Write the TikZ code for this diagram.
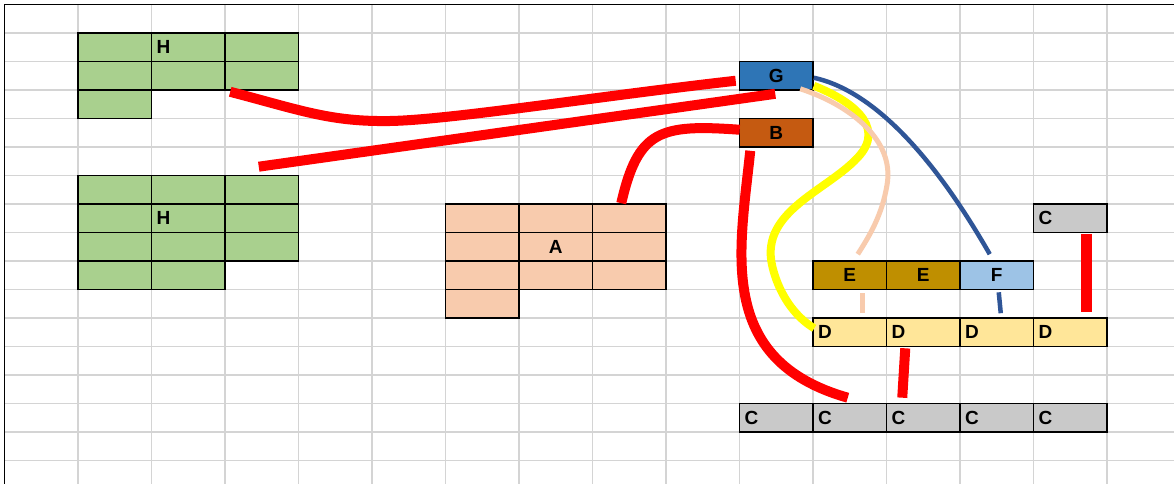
\documentclass[tikz,border=0pt]{standalone}
\usepackage{fontspec}
\setmainfont{Liberation Sans}
\usetikzlibrary{calc}

\definecolor{gridgray}{HTML}{D4D4D4}
\definecolor{hgreen}{HTML}{A9D08E}
\definecolor{apeach}{HTML}{F8CBAD}
\definecolor{gblue}{HTML}{2E75B6}
\definecolor{bbrown}{HTML}{C55A11}
\definecolor{egold}{HTML}{BF8F00}
\definecolor{flblue}{HTML}{9DC3E6}
\definecolor{dyellow}{HTML}{FFE699}
\definecolor{cgray}{HTML}{C9C9C9}
\definecolor{linkred}{HTML}{FF0000}
\definecolor{linkyellow}{HTML}{FFFF00}
\definecolor{linkpeach}{HTML}{F8CBAD}
\definecolor{linkblue}{HTML}{2F5597}

\begin{document}
\begin{tikzpicture}[x=1pt,y=-1pt,
  cellbox/.style={draw=black, line width=1.6pt, minimum height=28.5pt,
    inner ysep=0pt, inner xsep=5pt, text width=63.5pt,
    font=\fontsize{19}{22}\selectfont\bfseries},
  lefttext/.style={align=left},
  midtext/.style={align=center},
  gridline/.style={draw=gridgray, line width=1.8pt},
  redline/.style={draw=linkred, line width=10pt},
  yellowline/.style={draw=linkyellow, line width=8pt},
  peachline/.style={draw=linkpeach, line width=5pt},
  blueline/.style={draw=linkblue, line width=4.5pt}]

\useasboundingbox (0,0) rectangle (1174,484);
\clip (0,0) rectangle (1174,484);
\fill[white] (0,0) rectangle (1174,484);

% sheet grid
\foreach \i in {1,...,15}
  \draw[gridline] ({4.5+73.5*\i},4.5) -- ({4.5+73.5*\i},484);
\foreach \j in {1,...,16}
  \draw[gridline] (4.5,{4.5+28.5*\j}) -- (1174,{4.5+28.5*\j});
\draw[black, line width=1.6pt] (4.5,484) -- (4.5,4.5) -- (1174,4.5);

% upper green block
\node[cellbox, fill=hgreen] (ha1) at (114.75,47.25) {};
\node[cellbox, fill=hgreen, lefttext] (ha2) at (188.25,47.25) {H};
\node[cellbox, fill=hgreen] (ha3) at (261.75,47.25) {};
\node[cellbox, fill=hgreen] (ha4) at (114.75,75.75) {};
\node[cellbox, fill=hgreen] (ha5) at (188.25,75.75) {};
\node[cellbox, fill=hgreen] (ha6) at (261.75,75.75) {};
\node[cellbox, fill=hgreen] (ha7) at (114.75,104.25) {};

% lower green block
\node[cellbox, fill=hgreen] (hb1) at (114.75,189.75) {};
\node[cellbox, fill=hgreen] (hb2) at (188.25,189.75) {};
\node[cellbox, fill=hgreen] (hb3) at (261.75,189.75) {};
\node[cellbox, fill=hgreen] (hb4) at (114.75,218.25) {};
\node[cellbox, fill=hgreen, lefttext] (hb5) at (188.25,218.25) {H};
\node[cellbox, fill=hgreen] (hb6) at (261.75,218.25) {};
\node[cellbox, fill=hgreen] (hb7) at (114.75,246.75) {};
\node[cellbox, fill=hgreen] (hb8) at (188.25,246.75) {};
\node[cellbox, fill=hgreen] (hb9) at (261.75,246.75) {};
\node[cellbox, fill=hgreen] (hb10) at (114.75,275.25) {};
\node[cellbox, fill=hgreen] (hb11) at (188.25,275.25) {};

% peach block A
\node[cellbox, fill=apeach] (aa1) at (482.25,218.25) {};
\node[cellbox, fill=apeach] (aa2) at (555.75,218.25) {};
\node[cellbox, fill=apeach] (aa3) at (629.25,218.25) {};
\node[cellbox, fill=apeach] (aa4) at (482.25,246.75) {};
\node[cellbox, fill=apeach, midtext] (aa5) at (555.75,246.75) {A};
\node[cellbox, fill=apeach] (aa6) at (629.25,246.75) {};
\node[cellbox, fill=apeach] (aa7) at (482.25,275.25) {};
\node[cellbox, fill=apeach] (aa8) at (555.75,275.25) {};
\node[cellbox, fill=apeach] (aa9) at (629.25,275.25) {};
\node[cellbox, fill=apeach] (aa10) at (482.25,303.75) {};

% single cells
\node[cellbox, fill=gblue, midtext] (g) at (776.25,75.75) {G};
\node[cellbox, fill=bbrown, midtext] (b) at (776.25,132.75) {B};
\node[cellbox, fill=cgray, lefttext] (ctop) at (1070.25,218.25) {C};

% E E F row
\node[cellbox, fill=egold, midtext] (e1) at (849.75,275.25) {E};
\node[cellbox, fill=egold, midtext] (e2) at (923.25,275.25) {E};
\node[cellbox, fill=flblue, midtext] (f) at (996.75,275.25) {F};

% D row
\node[cellbox, fill=dyellow, lefttext] (d1) at (849.75,332.25) {D};
\node[cellbox, fill=dyellow, lefttext] (d2) at (923.25,332.25) {D};
\node[cellbox, fill=dyellow, lefttext] (d3) at (996.75,332.25) {D};
\node[cellbox, fill=dyellow, lefttext] (d4) at (1070.25,332.25) {D};

% C row
\node[cellbox, fill=cgray, lefttext] (c1) at (776.25,417.75) {C};
\node[cellbox, fill=cgray, lefttext] (c2) at (849.75,417.75) {C};
\node[cellbox, fill=cgray, lefttext] (c3) at (923.25,417.75) {C};
\node[cellbox, fill=cgray, lefttext] (c4) at (996.75,417.75) {C};
\node[cellbox, fill=cgray, lefttext] (c5) at (1070.25,417.75) {C};

% connectors
\draw[redline] ($(ha6.south west)+(6,1)$) .. controls (300,110) and (330,122) .. (390,121)
  .. controls (450,120) and (600,96) .. ($(g.west)+(-3,5)$);
\draw[redline] ($(hb3.north)+(-3,-8)$) -- ($(g.south)+(-1,3)$);
\draw[redline] ($(aa3.north)+(-8,0)$) .. controls (638,130) and (660,124) .. ($(b.west)+(1,-3)$);
\draw[redline] ($(b.south)+(-26,3)$) .. controls (740,250) and (715,360) .. ($(c2.north)+(-2,-5)$);
\draw[redline] ($(d2.south)+(-18,1)$) -- ($(c3.north)+(-21,-5)$);
\draw[redline, line width=11pt] ($(ctop.south)+(16,1)$) -- ($(d4.north)+(16,-5)$);

\draw[yellowline] ($(g.south east)+(0,-5)$) .. controls (850,100) and (885,125) .. (860,155)
  .. controls (830,190) and (760,210) .. (772,265)
  .. controls (780,300) and (800,320) .. ($(d1.west)+(2,-4)$);

\draw[peachline] ($(g.south)+(24,-2)$) .. controls (850,105) and (895,140) .. (887,185)
  .. controls (882,215) and (870,235) .. ($(e1.north)+(8,-6)$);
\draw[peachline] ($(e1.south)+(13,3)$) -- ($(d1.north)+(13,-4)$);

\draw[blueline] ($(g.east)+(0,2)$) .. controls (870,90) and (930,150) .. ($(f.north)+(-7,-6)$);
\draw[blueline] ($(f.south)+(2,2)$) -- ($(d3.north)+(4,-4)$);

\end{tikzpicture}
\end{document}
